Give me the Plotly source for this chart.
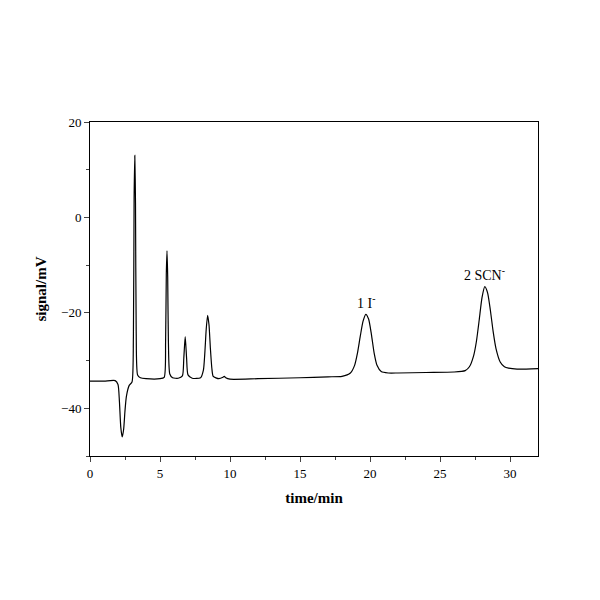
import plotly.graph_objects as go

# time (min) and signal (mV)
time_min = [0, 1.0, 1.8, 2.0, 2.1, 2.2, 2.3, 2.4, 2.5, 2.6, 2.8, 3.0, 3.1, 3.15, 3.2, 3.25, 3.3, 3.4, 3.6, 4.0,
            5.0, 5.3, 5.4, 5.45, 5.5, 5.55, 5.6, 5.7, 5.9, 6.3, 6.6, 6.7, 6.8, 6.9, 7.0, 7.3, 7.9, 8.1, 8.2, 8.3, 8.4,
            8.5, 8.6, 8.7, 8.8, 9.2, 9.5, 9.6, 9.7, 10.0, 12.0, 15.0, 17.0, 18.0, 18.6, 18.9, 19.1, 19.3, 19.5, 19.7, 19.9,
            20.1, 20.3, 20.5, 20.8, 21.3, 22.0, 24.0, 26.0, 26.8, 27.1, 27.4, 27.6, 27.8, 28.0, 28.2, 28.4, 28.6, 28.8, 29.0, 29.3, 29.6,
            29.9, 30.5, 32.0]
signal_mv = [-34.3, -34.3, -34.2, -35.0, -38.5, -44.0, -46.0, -44.5, -40.5, -37.5, -35.2, -34.5, -25.0, 4.0, 13.0, 3.0, -24.0, -33.0, -33.6, -33.8,
             -33.8, -33.5, -26.0, -12.0, -7.0, -12.5, -26.0, -32.8, -33.6, -33.7, -33.2, -29.5, -25.0, -29.5, -33.0, -33.7, -33.6, -32.0, -28.5, -23.5, -20.5,
             -22.5, -27.5, -31.5, -33.3, -33.8, -33.5, -33.3, -33.6, -33.9, -33.8, -33.6, -33.4, -33.3, -32.6, -31.0, -28.5, -25.0, -21.8, -20.3, -21.3,
             -24.5, -28.5, -31.0, -32.3, -32.6, -32.6, -32.5, -32.4, -32.1, -31.3, -29.0, -26.0, -21.5, -16.8, -14.5, -15.8, -19.5, -24.0, -27.5, -30.3, -31.3,
             -31.6, -31.8, -31.7]

peak_labels = ["1 I<sup>-</sup>", "2 SCN<sup>-</sup>"]
label_x = [19.7, 28.2]
label_y = [-17.8, -11.8]

font = "Liberation Serif"
fig = go.Figure(go.Scatter(x=time_min, y=signal_mv, mode="lines", line_shape="spline",
                           line=dict(color="black", width=1.2, smoothing=0.6), showlegend=False))

for t, x, y in zip(peak_labels, label_x, label_y):
    fig.add_annotation(x=x, y=y, text=t, showarrow=False, font=dict(family=font, size=14, color="black"))

axis = dict(showline=True, linecolor="black", linewidth=1, mirror=True, ticks="outside",
            ticklen=5, showgrid=False, zeroline=False, tickfont=dict(family=font, size=13, color="black"),
            minor=dict(ticks="outside", ticklen=3), automargin=False)
fig.update_xaxes(axis, range=[0, 32], dtick=5, minor_dtick=2.5,
                 title=dict(text="<b>time/min</b>", font=dict(family=font, size=15, color="black"), standoff=12))
fig.update_yaxes(axis, range=[-50, 20], dtick=20, minor_dtick=10,
                 title=dict(text="<b>signal/mV</b>", font=dict(family=font, size=15, color="black"), standoff=10))
fig.update_layout(width=600, height=600, margin=dict(l=82, r=70, t=114, b=152),
                  plot_bgcolor="white", paper_bgcolor="white")
fig.write_html("out.html")
